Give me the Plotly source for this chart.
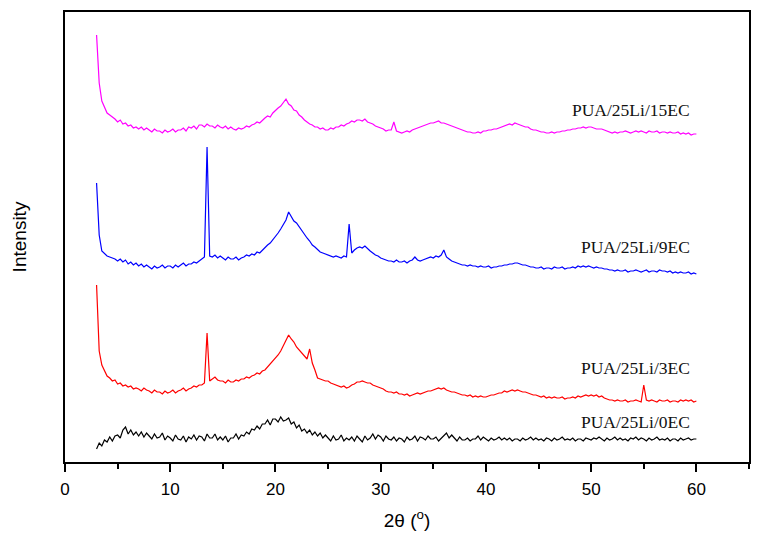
import plotly.graph_objects as go

# Each row k holds intensities at 2θ = 3+k, +0.25, +0.5, +0.75 (last row: 60.0)
start_angle = 3.0
step = 0.25

ec15 = [
    [428, 380, 362, 355], [350, 348, 346, 344], [341, 343, 339, 340], [337, 338, 335, 336],
    [334, 336, 333, 335], [333, 331, 334, 332], [332, 330, 333, 331], [332, 334, 331, 333],
    [333, 335, 332, 336], [335, 337, 334, 338], [338, 336, 339, 337], [337, 335, 338, 336],
    [335, 337, 334, 336], [334, 333, 335, 334], [335, 337, 336, 338], [339, 341, 340, 343],
    [345, 347, 346, 350], [353, 355, 357, 360], [364, 359, 357, 353], [352, 348, 346, 343],
    [341, 339, 338, 336], [336, 334, 335, 333], [333, 335, 334, 336], [336, 338, 337, 339],
    [340, 342, 341, 343], [343, 342, 344, 341], [340, 339, 337, 336], [335, 334, 332, 333],
    [333, 341, 332, 331], [330, 331, 332, 331], [333, 334, 335, 336], [337, 338, 339, 340],
    [340, 341, 342, 340], [340, 339, 338, 337], [336, 335, 334, 333], [332, 331, 331, 330],
    [330, 331, 330, 332], [332, 333, 333, 334], [334, 335, 336, 337], [338, 339, 338, 340],
    [339, 338, 337, 336], [336, 334, 333, 333], [332, 331, 331, 330], [330, 331, 330, 331],
    [331, 332, 332, 333], [333, 334, 334, 335], [335, 336, 335, 336], [336, 335, 334, 334],
    [334, 333, 332, 331], [330, 331, 330, 331], [331, 332, 331, 330], [331, 332, 331, 332],
    [331, 330, 332, 331], [331, 332, 330, 331], [331, 330, 331, 330], [330, 331, 329, 330],
    [329, 330, 328, 329], [329],
]

ec9 = [
    [280, 228, 212, 209], [207, 206, 205, 204], [202, 204, 201, 203], [199, 201, 198, 200],
    [197, 199, 196, 198], [196, 194, 197, 195], [196, 198, 195, 197], [197, 195, 198, 196],
    [198, 200, 197, 199], [199, 201, 200, 202], [204, 206, 316, 207], [206, 208, 205, 207],
    [205, 203, 206, 204], [204, 206, 203, 205], [206, 208, 207, 209], [208, 211, 210, 213],
    [215, 218, 220, 223], [226, 230, 234, 238], [243, 251, 246, 242], [240, 236, 232, 229],
    [225, 222, 218, 216], [213, 211, 210, 209], [208, 207, 206, 207], [206, 205, 207, 206],
    [239, 210, 213, 215], [216, 215, 217, 214], [212, 210, 208, 207], [205, 204, 203, 202],
    [202, 201, 203, 201], [201, 202, 200, 202], [203, 206, 203, 202], [203, 204, 205, 206],
    [205, 207, 206, 208], [213, 206, 204, 202], [201, 200, 199, 198], [198, 197, 198, 197],
    [197, 196, 197, 196], [196, 197, 195, 196], [196, 197, 197, 198], [198, 199, 199, 200],
    [200, 199, 198, 198], [197, 196, 196, 195], [195, 196, 194, 195], [195, 194, 196, 195],
    [195, 196, 194, 195], [195, 196, 195, 197], [196, 197, 196, 197], [196, 195, 196, 195],
    [195, 194, 194, 193], [193, 192, 193, 192], [192, 193, 191, 192], [192, 193, 192, 191],
    [192, 193, 191, 192], [192, 191, 193, 192], [192, 191, 192, 190], [191, 190, 191, 190],
    [190, 191, 189, 190], [189],
]

ec3 = [
    [178, 112, 98, 93], [87, 85, 82, 83], [79, 80, 77, 78], [76, 77, 74, 75],
    [74, 72, 75, 73], [72, 70, 73, 71], [71, 69, 72, 70], [71, 73, 70, 72],
    [73, 75, 72, 74], [75, 77, 76, 78], [78, 80, 130, 82], [84, 86, 83, 82],
    [82, 80, 83, 81], [81, 83, 82, 84], [84, 86, 85, 87], [88, 90, 89, 92],
    [93, 96, 98, 101], [104, 108, 112, 117], [122, 128, 124, 121], [116, 113, 110, 106],
    [104, 114, 100, 93], [85, 84, 83, 82], [82, 80, 79, 78], [77, 76, 77, 75],
    [76, 78, 79, 81], [81, 82, 81, 80], [80, 78, 77, 76], [75, 74, 72, 71],
    [71, 70, 71, 69], [69, 68, 69, 67], [68, 69, 70, 69], [70, 71, 72, 72],
    [73, 74, 75, 74], [75, 73, 72, 71], [71, 70, 69, 68], [68, 67, 68, 66],
    [67, 66, 67, 66], [66, 67, 68, 68], [69, 70, 70, 72], [71, 72, 73, 72],
    [73, 72, 71, 71], [70, 69, 68, 68], [67, 66, 67, 65], [66, 65, 66, 65],
    [65, 66, 64, 65], [65, 66, 65, 67], [66, 67, 68, 67], [68, 67, 68, 66],
    [67, 65, 64, 63], [63, 62, 63, 62], [62, 63, 61, 62], [62, 63, 62, 61],
    [78, 63, 62, 63], [62, 61, 63, 62], [62, 63, 61, 62], [62, 61, 63, 62],
    [63, 62, 63, 61], [62],
]

ec0 = [
    [14, 20, 17, 23], [21, 26, 22, 27], [28, 25, 33, 36], [29, 33, 28, 31],
    [27, 31, 26, 30], [27, 24, 29, 25], [26, 30, 23, 27], [25, 22, 28, 24],
    [23, 27, 21, 26], [24, 28, 23, 27], [26, 22, 29, 25], [25, 29, 23, 26],
    [23, 27, 21, 25], [25, 29, 24, 28], [27, 31, 29, 34], [33, 37, 34, 39],
    [39, 43, 38, 44], [44, 41, 46, 42], [43, 45, 39, 41], [35, 38, 32, 34],
    [30, 33, 28, 31], [27, 30, 25, 28], [25, 22, 27, 23], [24, 28, 22, 25],
    [23, 26, 22, 27], [24, 21, 27, 23], [25, 29, 24, 28], [26, 22, 27, 24],
    [23, 26, 22, 25], [24, 21, 26, 23], [24, 27, 22, 26], [25, 23, 27, 24],
    [24, 26, 22, 25], [27, 30, 25, 28], [25, 22, 26, 23], [23, 25, 22, 24],
    [24, 27, 23, 26], [24, 22, 25, 23], [24, 26, 23, 25], [23, 25, 22, 24],
    [24, 22, 25, 23], [24, 26, 23, 25], [23, 24, 22, 25], [24, 22, 25, 23],
    [24, 26, 23, 24], [23, 25, 22, 24], [24, 22, 25, 24], [23, 25, 24, 26],
    [24, 22, 25, 23], [24, 26, 23, 25], [23, 24, 22, 25], [24, 26, 23, 25],
    [24, 22, 25, 23], [24, 26, 23, 24], [23, 25, 22, 24], [24, 22, 25, 23],
    [24, 25, 23, 24], [24],
]

labels = ["PUA/25Li/15EC", "PUA/25Li/9EC", "PUA/25Li/3EC", "PUA/25Li/0EC"]
label_y = [353, 216, 95, 41]
colors = ["#FF00FF", "#0000FF", "#FF0000", "#000000"]
x_ticks = [0, 10, 20, 30, 40, 50, 60]


def flatten(rows):
    xs, ys = [], []
    for k, row in enumerate(rows):
        for j, v in enumerate(row):
            xs.append(start_angle + k + j * step)
            ys.append(v)
    return xs, ys


fig = go.Figure()
for series, col in zip([ec15, ec9, ec3, ec0], colors):
    xs, ys = flatten(series)
    fig.add_trace(go.Scatter(x=xs, y=ys, mode="lines",
                             line=dict(color=col, width=1.2), showlegend=False))

for lab, ly in zip(labels, label_y):
    fig.add_annotation(x=59.6, y=ly, text=lab, showarrow=False,
                       xanchor="right", yanchor="middle",
                       font=dict(family="Liberation Serif", size=17.5, color="#111111"))

fig.update_layout(
    width=759, height=540,
    margin=dict(l=65, r=10, t=12, b=78),
    paper_bgcolor="white", plot_bgcolor="white",
    font=dict(family="Liberation Sans", color="black"),
)
fig.update_xaxes(
    range=[0, 65], tickvals=x_ticks, ticks="outside", ticklen=8, tickwidth=1.5,
    tickcolor="black", showline=True, linecolor="black", linewidth=1.5,
    mirror=True, showgrid=False, zeroline=False, automargin=False,
    tickfont=dict(size=17), ticklabelstandoff=3,
    minor=dict(dtick=5, ticks="outside", ticklen=5, tickwidth=1.5, tickcolor="black", showgrid=False),
    title=dict(text="2θ (<sup>o</sup>)", font=dict(size=19), standoff=16),
)
fig.update_yaxes(
    range=[1, 451], showticklabels=False, ticks="", showline=True,
    linecolor="black", linewidth=1.5, mirror=True, showgrid=False, zeroline=False,
    automargin=False,
    title=dict(text="Intensity", font=dict(size=19), standoff=32),
)

fig.write_html("out.html", config={"displayModeBar": False},
               post_script="document.body.style.margin='0';")
